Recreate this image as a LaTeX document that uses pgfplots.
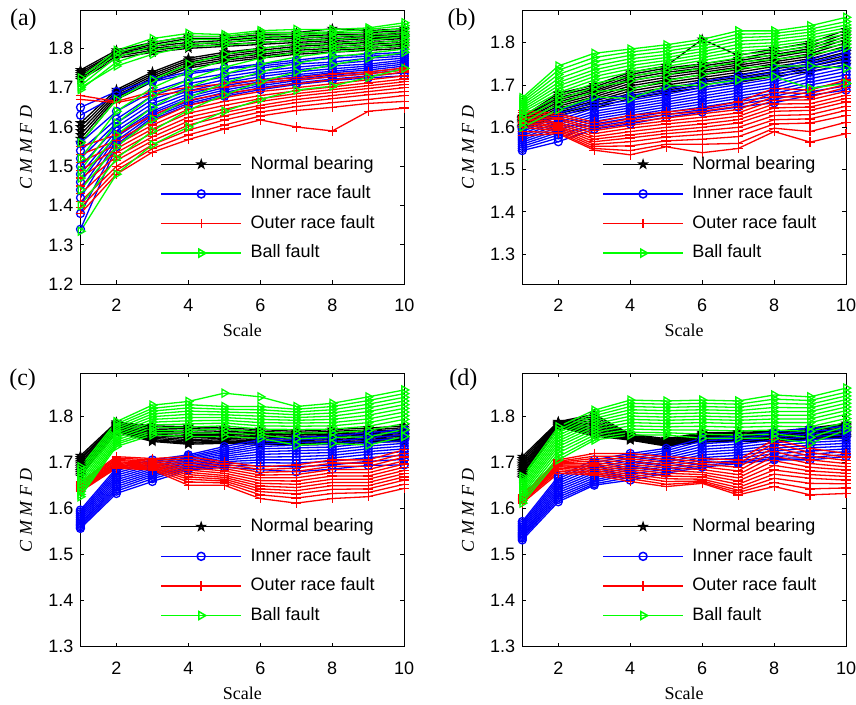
\documentclass[border=0pt]{standalone}
\usepackage{pgfplots}
\usepackage{pgfplotstable}
\pgfplotsset{compat=1.18}
\usepackage{fontspec}
\setmainfont{Liberation Serif}
\setsansfont{Liberation Sans}

\pgfdeclareplotmark{pentagram}{%
  \pgfpathmoveto{\pgfpointpolar{90}{\pgfplotmarksize}}%
  \pgfpathlineto{\pgfpointpolar{126}{0.382*\pgfplotmarksize}}%
  \pgfpathlineto{\pgfpointpolar{162}{\pgfplotmarksize}}%
  \pgfpathlineto{\pgfpointpolar{198}{0.382*\pgfplotmarksize}}%
  \pgfpathlineto{\pgfpointpolar{234}{\pgfplotmarksize}}%
  \pgfpathlineto{\pgfpointpolar{270}{0.382*\pgfplotmarksize}}%
  \pgfpathlineto{\pgfpointpolar{306}{\pgfplotmarksize}}%
  \pgfpathlineto{\pgfpointpolar{342}{0.382*\pgfplotmarksize}}%
  \pgfpathlineto{\pgfpointpolar{18}{\pgfplotmarksize}}%
  \pgfpathlineto{\pgfpointpolar{54}{0.382*\pgfplotmarksize}}%
  \pgfpathclose\pgfusepathqstroke}

\pgfplotsset{
  stNB/.style={color=black, line width=0.65pt, mark=pentagram, mark size=1.9pt},
  stIR/.style={color=blue, line width=0.65pt, mark=o, mark size=2pt},
  stOR/.style={color=red, line width=0.65pt, mark=+, mark size=2.4pt},
  stBF/.style={color=green, line width=0.65pt, mark=triangle, mark size=2.3pt, mark options={rotate=-90}},
  legend image code/.code={\draw[mark repeat=2,mark phase=2,#1,line width=0.75pt] plot coordinates {(0pt,0pt) (20pt,0pt) (40pt,0pt)};},
  panel/.style={
    scale only axis, width=161.9pt, height=136.65pt, anchor=south west,
    xmin=1, xmax=10, xtick={2,4,6,8,10}, clip=false,
    axis line style={line width=0.5pt},
    major tick length=2pt,
    every tick/.style={black, line width=0.5pt},
    tick label style={font=\sffamily\fontsize{9}{10}\selectfont},
    /pgf/number format/assume math mode=true,
    yticklabel style={/pgf/number format/.cd, fixed, fixed zerofill, precision=1},
    xticklabel style={yshift=-4pt},
    xlabel={Scale}, ylabel={\itshape C M M F D},
    label style={font=\fontsize{9}{10}\selectfont},
    xlabel style={at={(axis description cs:0.5,-0.17)}, anchor=center},
    ylabel style={at={(axis description cs:-0.168,0.5)}, anchor=center},
    legend cell align=left,
    legend style={draw=none, fill=none, inner sep=0pt, outer sep=0pt,
      at={(axis description cs:0.2471,0.0836)}, anchor=south west,
      font=\sffamily\fontsize{9}{10}\selectfont, row sep=6.5pt, column sep=4.3pt,
      nodes={inner sep=0pt, text height=6.5pt, text depth=1.8pt}},
  }
}

\newcommand{\cls}[2]{\pgfplotsinvokeforeach{1,...,12}{\addplot[#2,forget plot] table[x=colnames,y index=##1]{#1};}}
\newcommand{\leg}{\addlegendimage{stNB}\addlegendimage{stIR}\addlegendimage{stOR}\addlegendimage{stBF}
  \legend{Normal bearing, Inner race fault, Outer race fault, Ball fault}}

% ---------------- panel (a) ----------------
\pgfplotstableread[header=has colnames]{
1 2 3 4 5 6 7 8 9 10
1.745 1.795 1.815 1.830 1.830 1.840 1.840 1.850 1.845 1.850
1.740 1.790 1.810 1.825 1.825 1.835 1.835 1.840 1.840 1.845
1.735 1.788 1.805 1.815 1.820 1.828 1.830 1.835 1.835 1.840
1.730 1.785 1.800 1.810 1.815 1.822 1.825 1.830 1.832 1.835
1.725 1.780 1.795 1.805 1.810 1.815 1.820 1.825 1.828 1.830
1.720 1.775 1.790 1.800 1.805 1.810 1.815 1.820 1.825 1.828
1.610 1.695 1.740 1.775 1.790 1.800 1.810 1.815 1.820 1.825
1.600 1.690 1.735 1.770 1.785 1.795 1.805 1.810 1.815 1.820
1.590 1.685 1.730 1.765 1.780 1.790 1.800 1.805 1.810 1.815
1.580 1.680 1.725 1.760 1.775 1.785 1.795 1.800 1.805 1.810
1.570 1.675 1.720 1.755 1.770 1.780 1.790 1.795 1.800 1.805
1.560 1.670 1.715 1.750 1.765 1.775 1.785 1.790 1.795 1.800
}\rawAK
\pgfplotstableread[header=has colnames]{
1 2 3 4 5 6 7 8 9 10
1.650 1.690 1.720 1.740 1.750 1.760 1.770 1.780 1.785 1.790
1.630 1.680 1.715 1.735 1.748 1.755 1.765 1.775 1.780 1.785
1.560 1.640 1.690 1.720 1.735 1.750 1.760 1.765 1.775 1.780
1.540 1.620 1.680 1.710 1.728 1.742 1.752 1.760 1.768 1.775
1.520 1.610 1.670 1.700 1.720 1.735 1.745 1.755 1.760 1.770
1.500 1.600 1.660 1.692 1.712 1.728 1.740 1.748 1.755 1.765
1.480 1.590 1.650 1.685 1.705 1.720 1.733 1.742 1.750 1.760
1.460 1.580 1.640 1.678 1.700 1.715 1.728 1.738 1.745 1.755
1.440 1.575 1.635 1.672 1.694 1.710 1.722 1.732 1.740 1.750
1.420 1.565 1.630 1.665 1.688 1.705 1.718 1.728 1.736 1.745
1.380 1.555 1.625 1.660 1.682 1.700 1.712 1.722 1.730 1.738
1.340 1.550 1.620 1.655 1.678 1.695 1.708 1.718 1.725 1.730
}\rawAB
\pgfplotstableread[header=has colnames]{
1 2 3 4 5 6 7 8 9 10
1.680 1.665 1.690 1.700 1.710 1.720 1.725 1.735 1.740 1.750
1.670 1.662 1.680 1.692 1.702 1.712 1.720 1.728 1.735 1.745
1.550 1.580 1.630 1.668 1.685 1.698 1.710 1.720 1.728 1.740
1.530 1.565 1.615 1.655 1.675 1.690 1.700 1.710 1.720 1.730
1.510 1.555 1.605 1.645 1.665 1.680 1.692 1.702 1.712 1.722
1.490 1.545 1.595 1.635 1.655 1.672 1.685 1.695 1.705 1.715
1.470 1.535 1.585 1.625 1.645 1.665 1.678 1.688 1.698 1.708
1.450 1.525 1.575 1.615 1.637 1.655 1.670 1.680 1.690 1.700
1.430 1.515 1.565 1.605 1.628 1.648 1.662 1.672 1.682 1.690
1.410 1.500 1.555 1.592 1.618 1.638 1.652 1.662 1.670 1.680
1.395 1.490 1.545 1.580 1.605 1.628 1.642 1.650 1.660 1.665
1.380 1.480 1.536 1.568 1.595 1.618 1.600 1.590 1.640 1.648
}\rawAR
\pgfplotstableread[header=has colnames]{
1 2 3 4 5 6 7 8 9 10
1.725 1.795 1.825 1.838 1.835 1.845 1.848 1.848 1.852 1.865
1.715 1.788 1.815 1.830 1.830 1.840 1.840 1.842 1.848 1.858
1.705 1.778 1.805 1.822 1.823 1.832 1.835 1.838 1.842 1.850
1.695 1.765 1.795 1.812 1.815 1.825 1.828 1.830 1.835 1.842
1.700 1.755 1.785 1.805 1.808 1.815 1.820 1.822 1.828 1.835
1.560 1.670 1.720 1.760 1.785 1.800 1.810 1.812 1.820 1.830
1.520 1.640 1.700 1.740 1.770 1.790 1.800 1.805 1.812 1.822
1.490 1.610 1.680 1.720 1.752 1.775 1.790 1.798 1.805 1.815
1.470 1.580 1.650 1.700 1.735 1.760 1.778 1.790 1.798 1.808
1.440 1.550 1.620 1.675 1.712 1.740 1.762 1.778 1.788 1.798
1.400 1.520 1.590 1.643 1.682 1.715 1.740 1.758 1.775 1.790
1.335 1.480 1.555 1.600 1.640 1.670 1.694 1.704 1.726 1.749
}\rawAG
% ---------------- panel (b) ----------------
\pgfplotstableread[header=has colnames]{
1 2 3 4 5 6 7 8 9 10
1.625 1.680 1.700 1.730 1.745 1.808 1.770 1.785 1.800 1.830
1.622 1.675 1.695 1.725 1.740 1.750 1.762 1.778 1.792 1.822
1.620 1.670 1.690 1.720 1.735 1.745 1.757 1.772 1.786 1.815
1.618 1.665 1.686 1.715 1.730 1.740 1.752 1.766 1.780 1.808
1.615 1.660 1.682 1.710 1.724 1.735 1.747 1.760 1.774 1.800
1.612 1.655 1.677 1.704 1.718 1.730 1.742 1.755 1.768 1.792
1.610 1.650 1.672 1.698 1.712 1.724 1.736 1.750 1.762 1.785
1.607 1.645 1.667 1.692 1.706 1.718 1.730 1.744 1.756 1.778
1.604 1.640 1.662 1.686 1.700 1.712 1.724 1.738 1.750 1.770
1.601 1.636 1.657 1.680 1.694 1.706 1.718 1.732 1.744 1.762
1.598 1.632 1.652 1.674 1.688 1.700 1.712 1.726 1.738 1.755
1.595 1.628 1.646 1.668 1.682 1.694 1.706 1.720 1.732 1.748
}\rawBK
\pgfplotstableread[header=has colnames]{
1 2 3 4 5 6 7 8 9 10
1.600 1.640 1.668 1.675 1.690 1.708 1.722 1.738 1.760 1.785
1.595 1.632 1.660 1.670 1.684 1.700 1.715 1.730 1.752 1.775
1.590 1.625 1.652 1.664 1.678 1.694 1.708 1.722 1.745 1.766
1.585 1.618 1.645 1.658 1.672 1.688 1.701 1.715 1.738 1.757
1.580 1.612 1.638 1.652 1.666 1.681 1.694 1.708 1.730 1.748
1.575 1.606 1.632 1.646 1.660 1.674 1.688 1.701 1.722 1.740
1.570 1.600 1.626 1.640 1.654 1.668 1.681 1.694 1.715 1.732
1.565 1.594 1.620 1.634 1.648 1.661 1.674 1.687 1.707 1.724
1.560 1.588 1.614 1.628 1.642 1.655 1.668 1.680 1.700 1.716
1.555 1.582 1.608 1.622 1.636 1.648 1.661 1.673 1.692 1.707
1.550 1.575 1.602 1.615 1.630 1.642 1.655 1.666 1.684 1.698
1.545 1.566 1.596 1.608 1.624 1.636 1.648 1.658 1.676 1.688
}\rawBB
\pgfplotstableread[header=has colnames]{
1 2 3 4 5 6 7 8 9 10
1.640 1.632 1.612 1.628 1.636 1.645 1.660 1.692 1.688 1.712
1.635 1.628 1.605 1.620 1.630 1.638 1.650 1.682 1.680 1.702
1.630 1.622 1.598 1.612 1.622 1.632 1.642 1.672 1.672 1.694
1.625 1.618 1.592 1.605 1.615 1.624 1.634 1.664 1.665 1.685
1.622 1.612 1.585 1.598 1.608 1.616 1.626 1.655 1.656 1.676
1.618 1.608 1.578 1.590 1.600 1.608 1.618 1.646 1.648 1.668
1.614 1.603 1.572 1.582 1.592 1.600 1.610 1.638 1.640 1.660
1.610 1.600 1.566 1.575 1.585 1.592 1.600 1.628 1.630 1.650
1.605 1.596 1.560 1.566 1.577 1.583 1.590 1.618 1.620 1.640
1.600 1.592 1.555 1.556 1.568 1.572 1.578 1.608 1.610 1.628
1.590 1.588 1.550 1.545 1.560 1.560 1.562 1.598 1.590 1.612
1.580 1.585 1.546 1.535 1.554 1.540 1.550 1.590 1.565 1.585
}\rawBR
\pgfplotstableread[header=has colnames]{
1 2 3 4 5 6 7 8 9 10
1.670 1.745 1.775 1.785 1.795 1.808 1.828 1.828 1.840 1.860
1.665 1.735 1.765 1.778 1.788 1.800 1.820 1.822 1.832 1.850
1.660 1.725 1.755 1.770 1.780 1.793 1.812 1.815 1.825 1.842
1.655 1.715 1.745 1.762 1.772 1.786 1.804 1.808 1.818 1.835
1.650 1.706 1.736 1.754 1.765 1.779 1.796 1.800 1.811 1.828
1.645 1.698 1.728 1.746 1.758 1.772 1.788 1.793 1.804 1.820
1.640 1.690 1.720 1.738 1.751 1.765 1.780 1.786 1.797 1.812
1.635 1.682 1.712 1.730 1.744 1.758 1.772 1.779 1.790 1.805
1.628 1.674 1.704 1.720 1.735 1.750 1.764 1.770 1.782 1.797
1.620 1.665 1.695 1.710 1.725 1.740 1.755 1.760 1.772 1.788
1.610 1.655 1.685 1.690 1.710 1.725 1.740 1.745 1.745 1.740
1.600 1.642 1.672 1.668 1.698 1.700 1.712 1.720 1.692 1.704
}\rawBG
% ---------------- panel (c) ----------------
\pgfplotstableread[header=has colnames]{
1 2 3 4 5 6 7 8 9 10
1.715 1.788 1.780 1.778 1.775 1.772 1.768 1.772 1.775 1.780
1.710 1.786 1.776 1.774 1.772 1.768 1.765 1.768 1.771 1.776
1.706 1.784 1.772 1.770 1.768 1.765 1.762 1.765 1.768 1.772
1.702 1.782 1.768 1.766 1.765 1.762 1.760 1.762 1.765 1.769
1.698 1.780 1.765 1.762 1.762 1.759 1.757 1.759 1.762 1.766
1.694 1.778 1.762 1.758 1.759 1.756 1.754 1.756 1.760 1.763
1.690 1.776 1.759 1.754 1.756 1.753 1.751 1.753 1.757 1.760
1.686 1.774 1.756 1.750 1.753 1.750 1.748 1.750 1.754 1.757
1.682 1.772 1.753 1.747 1.750 1.747 1.745 1.747 1.751 1.754
1.678 1.770 1.750 1.744 1.747 1.744 1.742 1.744 1.748 1.751
1.674 1.768 1.748 1.742 1.745 1.742 1.740 1.742 1.746 1.749
1.670 1.766 1.746 1.740 1.742 1.740 1.738 1.740 1.744 1.746
}\rawCK
\pgfplotstableread[header=has colnames]{
1 2 3 4 5 6 7 8 9 10
1.597 1.688 1.706 1.717 1.735 1.750 1.755 1.758 1.765 1.772
1.593 1.683 1.702 1.714 1.730 1.745 1.750 1.752 1.760 1.766
1.589 1.678 1.698 1.711 1.726 1.740 1.744 1.746 1.754 1.760
1.585 1.673 1.694 1.708 1.722 1.735 1.738 1.740 1.748 1.754
1.581 1.668 1.690 1.705 1.718 1.730 1.732 1.734 1.742 1.748
1.577 1.663 1.686 1.702 1.714 1.724 1.726 1.728 1.736 1.742
1.573 1.658 1.682 1.699 1.710 1.718 1.720 1.722 1.730 1.736
1.569 1.653 1.678 1.696 1.706 1.712 1.713 1.716 1.724 1.730
1.566 1.648 1.674 1.693 1.702 1.706 1.706 1.710 1.718 1.724
1.563 1.643 1.670 1.690 1.698 1.700 1.699 1.703 1.711 1.716
1.560 1.638 1.665 1.687 1.694 1.693 1.691 1.695 1.703 1.707
1.557 1.633 1.659 1.684 1.690 1.685 1.680 1.686 1.694 1.695
}\rawCB
\pgfplotstableread[header=has colnames]{
1 2 3 4 5 6 7 8 9 10
1.659 1.713 1.709 1.713 1.702 1.691 1.695 1.706 1.706 1.728
1.657 1.710 1.706 1.707 1.697 1.685 1.688 1.699 1.699 1.720
1.655 1.707 1.703 1.701 1.692 1.679 1.681 1.692 1.692 1.712
1.653 1.705 1.700 1.695 1.687 1.673 1.674 1.685 1.685 1.704
1.651 1.702 1.698 1.689 1.682 1.667 1.667 1.678 1.678 1.697
1.649 1.700 1.696 1.684 1.677 1.661 1.660 1.671 1.671 1.690
1.647 1.698 1.694 1.679 1.672 1.655 1.653 1.664 1.664 1.683
1.645 1.696 1.692 1.674 1.668 1.649 1.646 1.657 1.657 1.676
1.643 1.694 1.690 1.669 1.664 1.643 1.639 1.650 1.650 1.669
1.641 1.692 1.688 1.664 1.660 1.637 1.632 1.642 1.643 1.662
1.639 1.690 1.686 1.658 1.656 1.630 1.623 1.633 1.635 1.653
1.637 1.688 1.684 1.651 1.651 1.622 1.612 1.622 1.626 1.644
}\rawCR
\pgfplotstableread[header=has colnames]{
1 2 3 4 5 6 7 8 9 10
1.691 1.789 1.825 1.833 1.851 1.843 1.822 1.829 1.843 1.858
1.685 1.784 1.818 1.826 1.822 1.822 1.816 1.822 1.835 1.850
1.679 1.779 1.812 1.819 1.816 1.815 1.810 1.815 1.827 1.842
1.673 1.774 1.806 1.812 1.810 1.808 1.804 1.808 1.819 1.834
1.667 1.769 1.800 1.805 1.804 1.801 1.798 1.801 1.811 1.826
1.661 1.764 1.794 1.798 1.798 1.794 1.792 1.794 1.803 1.818
1.655 1.759 1.788 1.791 1.792 1.787 1.786 1.787 1.795 1.810
1.649 1.754 1.782 1.784 1.786 1.780 1.779 1.780 1.787 1.802
1.643 1.749 1.776 1.777 1.780 1.773 1.772 1.773 1.779 1.794
1.637 1.744 1.770 1.770 1.773 1.766 1.764 1.765 1.770 1.785
1.631 1.740 1.765 1.764 1.765 1.760 1.752 1.755 1.756 1.772
1.626 1.735 1.760 1.757 1.757 1.753 1.738 1.742 1.738 1.757
}\rawCG
% ---------------- panel (d) ----------------
\pgfplotstableread[header=has colnames]{
1 2 3 4 5 6 7 8 9 10
1.713 1.789 1.805 1.762 1.752 1.765 1.766 1.768 1.775 1.785
1.708 1.788 1.800 1.760 1.750 1.763 1.764 1.766 1.772 1.782
1.703 1.787 1.795 1.758 1.748 1.761 1.762 1.764 1.770 1.779
1.698 1.786 1.790 1.757 1.746 1.759 1.760 1.762 1.767 1.776
1.694 1.785 1.786 1.756 1.745 1.757 1.758 1.760 1.765 1.773
1.690 1.784 1.782 1.755 1.744 1.755 1.756 1.758 1.763 1.770
1.686 1.783 1.778 1.754 1.742 1.753 1.754 1.756 1.761 1.767
1.682 1.782 1.774 1.753 1.741 1.751 1.752 1.754 1.759 1.764
1.678 1.781 1.770 1.752 1.740 1.749 1.750 1.752 1.757 1.761
1.674 1.780 1.766 1.751 1.739 1.747 1.748 1.750 1.755 1.758
1.670 1.779 1.762 1.750 1.738 1.746 1.747 1.748 1.753 1.755
1.666 1.778 1.758 1.749 1.736 1.745 1.746 1.747 1.751 1.753
}\rawDK
\pgfplotstableread[header=has colnames]{
1 2 3 4 5 6 7 8 9 10
1.572 1.670 1.706 1.720 1.731 1.753 1.757 1.767 1.775 1.778
1.568 1.665 1.700 1.715 1.726 1.747 1.752 1.761 1.769 1.772
1.564 1.660 1.694 1.710 1.721 1.741 1.746 1.755 1.763 1.766
1.560 1.655 1.688 1.705 1.716 1.735 1.740 1.749 1.757 1.760
1.556 1.650 1.682 1.700 1.711 1.729 1.734 1.743 1.750 1.754
1.552 1.645 1.677 1.695 1.706 1.723 1.728 1.737 1.744 1.748
1.548 1.640 1.672 1.690 1.701 1.717 1.722 1.731 1.738 1.742
1.545 1.635 1.667 1.685 1.696 1.711 1.716 1.725 1.732 1.736
1.542 1.630 1.662 1.680 1.691 1.705 1.710 1.719 1.725 1.730
1.539 1.625 1.658 1.675 1.686 1.699 1.704 1.713 1.718 1.724
1.536 1.620 1.654 1.668 1.681 1.694 1.701 1.709 1.711 1.718
1.532 1.615 1.651 1.662 1.677 1.690 1.698 1.706 1.706 1.713
}\rawDB
\pgfplotstableread[header=has colnames]{
1 2 3 4 5 6 7 8 9 10
1.630 1.706 1.720 1.720 1.713 1.709 1.706 1.750 1.731 1.720
1.628 1.703 1.714 1.714 1.707 1.703 1.698 1.742 1.722 1.712
1.626 1.701 1.709 1.708 1.701 1.697 1.690 1.733 1.714 1.705
1.624 1.699 1.704 1.702 1.695 1.691 1.682 1.724 1.706 1.698
1.622 1.697 1.699 1.696 1.689 1.685 1.674 1.714 1.698 1.691
1.621 1.695 1.695 1.690 1.683 1.679 1.667 1.704 1.690 1.684
1.620 1.693 1.691 1.685 1.677 1.674 1.660 1.694 1.682 1.677
1.619 1.691 1.687 1.680 1.671 1.669 1.653 1.684 1.674 1.670
1.618 1.688 1.683 1.675 1.665 1.664 1.646 1.675 1.666 1.662
1.617 1.685 1.679 1.670 1.659 1.660 1.640 1.666 1.655 1.654
1.615 1.681 1.676 1.665 1.653 1.657 1.635 1.657 1.643 1.645
1.612 1.677 1.673 1.659 1.648 1.655 1.630 1.648 1.630 1.633
}\rawDR
\pgfplotstableread[header=has colnames]{
1 2 3 4 5 6 7 8 9 10
1.670 1.778 1.814 1.836 1.834 1.836 1.834 1.847 1.843 1.862
1.665 1.771 1.808 1.829 1.827 1.829 1.827 1.838 1.835 1.853
1.660 1.765 1.802 1.822 1.820 1.822 1.820 1.829 1.827 1.845
1.655 1.759 1.796 1.815 1.813 1.815 1.813 1.820 1.819 1.837
1.650 1.753 1.790 1.808 1.806 1.808 1.806 1.811 1.811 1.829
1.645 1.747 1.784 1.801 1.799 1.801 1.799 1.803 1.803 1.821
1.640 1.741 1.778 1.794 1.792 1.794 1.792 1.795 1.795 1.813
1.635 1.735 1.772 1.787 1.785 1.787 1.785 1.787 1.787 1.805
1.630 1.728 1.766 1.780 1.778 1.779 1.777 1.779 1.778 1.796
1.624 1.721 1.760 1.773 1.771 1.771 1.769 1.771 1.768 1.788
1.618 1.713 1.754 1.766 1.765 1.762 1.760 1.762 1.755 1.779
1.612 1.706 1.749 1.760 1.760 1.753 1.753 1.753 1.742 1.771
}\rawDG

\pgfplotstabletranspose{\tAK}{\rawAK}\pgfplotstabletranspose{\tAB}{\rawAB}
\pgfplotstabletranspose{\tAR}{\rawAR}\pgfplotstabletranspose{\tAG}{\rawAG}
\pgfplotstabletranspose{\tBK}{\rawBK}\pgfplotstabletranspose{\tBB}{\rawBB}
\pgfplotstabletranspose{\tBR}{\rawBR}\pgfplotstabletranspose{\tBG}{\rawBG}
\pgfplotstabletranspose{\tCK}{\rawCK}\pgfplotstabletranspose{\tCB}{\rawCB}
\pgfplotstabletranspose{\tCR}{\rawCR}\pgfplotstabletranspose{\tCG}{\rawCG}
\pgfplotstabletranspose{\tDK}{\rawDK}\pgfplotstabletranspose{\tDB}{\rawDB}
\pgfplotstabletranspose{\tDR}{\rawDR}\pgfplotstabletranspose{\tDG}{\rawDG}

\begin{document}
\begin{tikzpicture}
\useasboundingbox (0,0) rectangle (428pt,352.5pt);

\begin{axis}[panel, at={(40.25pt,210.35pt)}, ymin=1.2, ymax=1.895, ytick={1.2,1.3,1.4,1.5,1.6,1.7,1.8}]
\cls{\tAK}{stNB}\cls{\tAB}{stIR}\cls{\tAR}{stOR}\cls{\tAG}{stBF}
\leg
\end{axis}

\begin{axis}[panel, at={(261.15pt,210.35pt)}, ymin=1.229, ymax=1.875, ytick={1.3,1.4,1.5,1.6,1.7,1.8}]
\cls{\tBK}{stNB}\cls{\tBB}{stIR}\cls{\tBR}{stOR}\cls{\tBG}{stBF}
\leg
\end{axis}

\begin{axis}[panel, at={(40.2pt,29.15pt)}, ymin=1.3, ymax=1.894, ytick={1.3,1.4,1.5,1.6,1.7,1.8}]
\cls{\tCK}{stNB}\cls{\tCB}{stIR}\cls{\tCR}{stOR}\cls{\tCG}{stBF}
\leg
\end{axis}

\begin{axis}[panel, at={(261.15pt,29.15pt)}, ymin=1.3, ymax=1.894, ytick={1.3,1.4,1.5,1.6,1.7,1.8}]
\cls{\tDK}{stNB}\cls{\tDB}{stIR}\cls{\tDR}{stOR}\cls{\tDG}{stBF}
\leg
\end{axis}

\node[font=\fontsize{12}{14}\selectfont] at (11.7pt,342.5pt) {(a)};
\node[font=\fontsize{12}{14}\selectfont] at (230.8pt,342.5pt) {(b)};
\node[font=\fontsize{12}{14}\selectfont] at (11.3pt,162.5pt) {(c)};
\node[font=\fontsize{12}{14}\selectfont] at (231.7pt,162.5pt) {(d)};
\end{tikzpicture}
\end{document}
